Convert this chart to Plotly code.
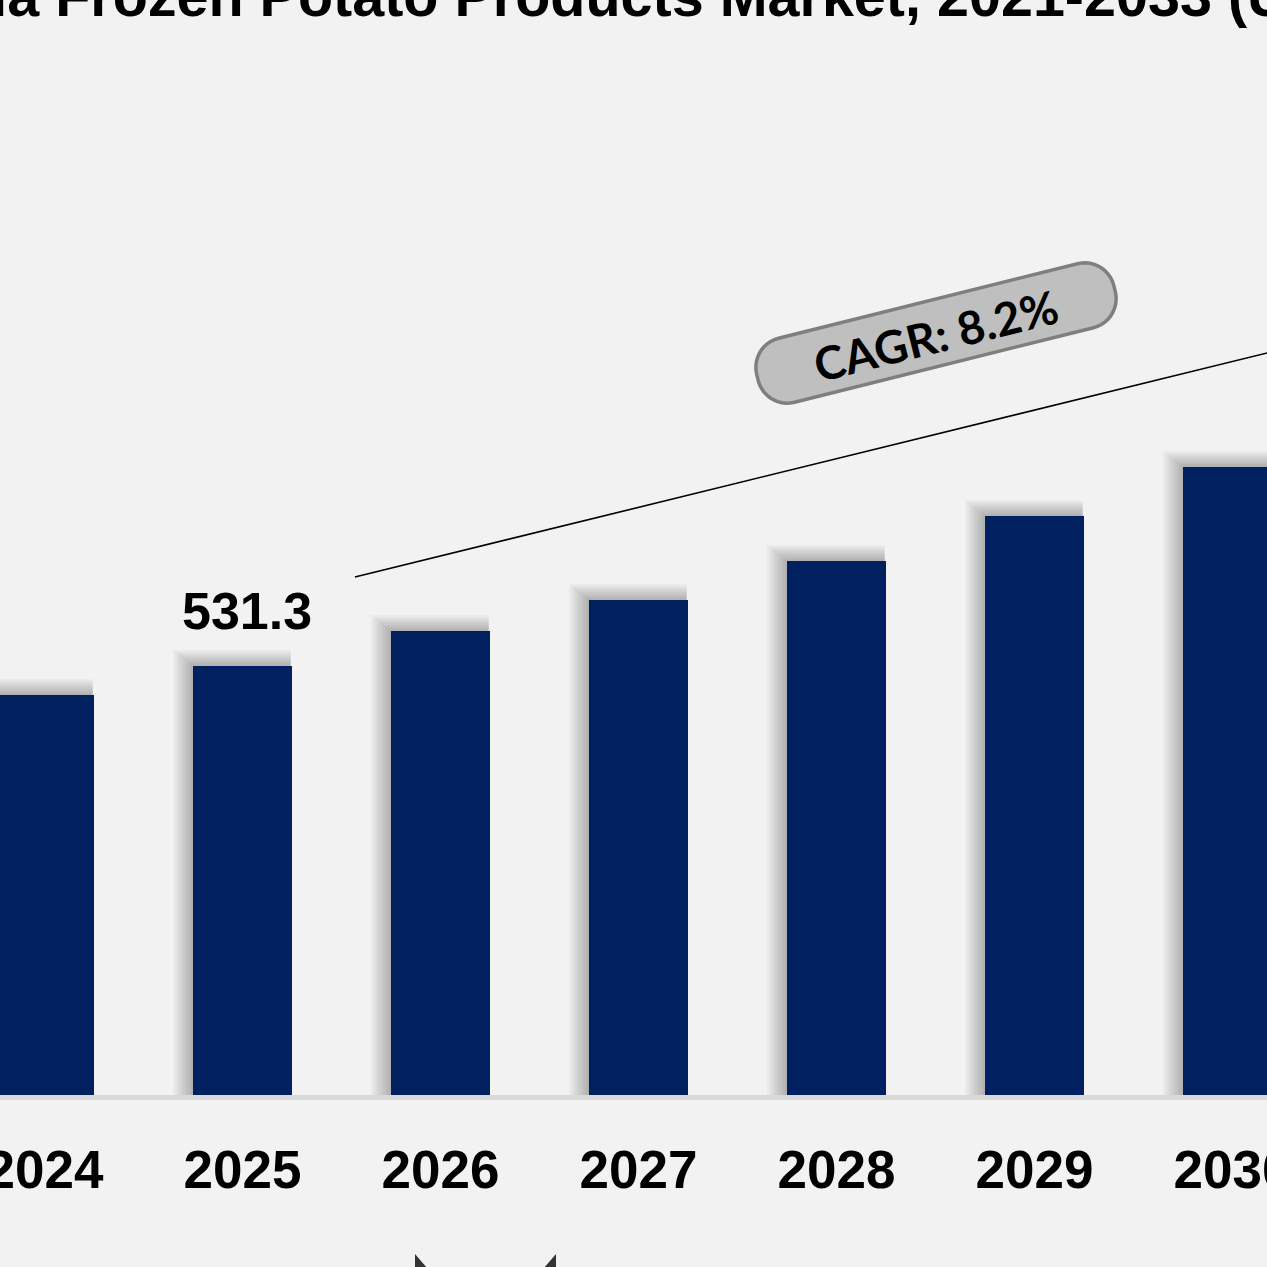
import numpy as np
import plotly.graph_objects as go

# ---------------- data ----------------
years = ["2024", "2025", "2026", "2027", "2028", "2029", "2030"]
values = [495.4, 531.3, 574.6, 613.0, 661.3, 717.1, 777.7]
label_year = "2025"
label_text = "531.3"
title_text = "India Frozen Potato Products Market, 2021-2033 (USD Million)"
cagr_text = "CAGR: 8.2%"

# ---------------- geometry helpers ----------------
W, H = 1267, 1267
PLOT_H = 1095          # plot area height in px (bottom margin = H - PLOT_H)
BOTTOM = H - PLOT_H
Y_MAX = 1356.1
X_RANGE = [-0.2247, 6.1742]
PX_PER_CAT = W / (X_RANGE[1] - X_RANGE[0])
UNITS_PER_PX = Y_MAX / PLOT_H


def to_paper(px, py):
    return px / W, (PLOT_H - py) / PLOT_H


BAR_COLOR = "#002060"
BG = "#f2f2f2"
xi = list(range(len(years)))

fig = go.Figure()

# soft shadow (up-left) behind the bars
n_layers = 10
for k in range(n_layers, 0, -1):
    dpx = 2.0 * k
    left_ext = dpx / PX_PER_CAT
    up_ext = 0.8 * dpx * UNITS_PER_PX
    fig.add_trace(go.Bar(
        x=xi, y=[v + up_ext for v in values],
        width=0.5 + left_ext - 0.006, offset=-0.25 - left_ext,
        marker=dict(color="rgba(0,0,0,0.026)", line=dict(width=0)),
        hoverinfo="skip", showlegend=False,
    ))

fig.add_trace(go.Bar(
    x=xi, y=values, width=0.5, offset=-0.25,
    marker=dict(color=BAR_COLOR, line=dict(width=0)),
    showlegend=False,
))

# value label
li = years.index(label_year)
fig.add_annotation(
    x=li, y=values[li], xref="x", yref="y",
    text=label_text, showarrow=False, xanchor="center", yanchor="bottom",
    xshift=5, yshift=24,
    font=dict(family="Liberation Sans, Arial", size=52, color="black", weight="bold"),
)

# trend line
slope_units_per_cat = (224 / 912) * PX_PER_CAT * UNITS_PER_PX
x0_line = 1.568
y0_line = 641.5
x1_line = 7.0
fig.add_shape(type="line", xref="x", yref="y",
              x0=x0_line, y0=y0_line, x1=x1_line,
              y1=y0_line + slope_units_per_cat * (x1_line - x0_line),
              line=dict(color="black", width=1.6))

# CAGR pill (rotated rounded rectangle)
cx, cy = 936, 333
L_p, T_p, r_p = 368, 66, 30
ang = np.deg2rad(14)
pts = []
hx, hy = L_p / 2 - r_p, T_p / 2 - r_p
for (ccx, ccy, a0) in [(hx, -hy, -90), (hx, hy, 0), (-hx, hy, 90), (-hx, -hy, 180)]:
    for a in np.linspace(a0, a0 + 90, 12):
        t = np.deg2rad(a)
        pts.append((ccx + r_p * np.cos(t), ccy + r_p * np.sin(t)))
path = ""
for i, (lx, ly) in enumerate(pts):
    sx = cx + lx * np.cos(ang) + ly * np.sin(ang)
    sy = cy - lx * np.sin(ang) + ly * np.cos(ang)
    px_, py_ = to_paper(sx, sy)
    path += ("M" if i == 0 else "L") + f"{px_:.5f},{py_:.5f} "
path += "Z"
fig.add_shape(type="path", xref="paper", yref="paper", path=path,
              fillcolor="#bfbfbf", line=dict(color="#7f7f7f", width=3.5))
tx, ty = to_paper(935, 335)
fig.add_annotation(x=tx, y=ty, xref="paper", yref="paper", text=cagr_text,
                   showarrow=False, textangle=-14, xanchor="center", yanchor="middle",
                   font=dict(family="Lato", size=46, color="black", weight="bold"))

# title (cropped at the top / sides)
ttx, tty = to_paper(-97, -4)
fig.add_annotation(x=ttx, y=tty, xref="paper", yref="paper", text=title_text,
                   showarrow=False, xanchor="left", yanchor="middle",
                   font=dict(family="Liberation Sans, Arial", size=57.5, color="black", weight="bold"))

# logo fragments at the bottom
for tri in [[(415, 1254), (415, 1290), (446, 1290)], [(556, 1254), (556, 1290), (525, 1290)]]:
    p = ""
    for i, (a, b) in enumerate(tri):
        qx, qy = to_paper(a, b)
        p += ("M" if i == 0 else "L") + f"{qx:.5f},{qy:.5f} "
    fig.add_shape(type="path", xref="paper", yref="paper", path=p + "Z",
                  fillcolor="#333333", line=dict(width=0))

fig.update_layout(
    width=W, height=H, margin=dict(l=0, r=0, t=0, b=BOTTOM, pad=0, autoexpand=False),
    paper_bgcolor=BG, plot_bgcolor=BG, barmode="overlay", showlegend=False,
    xaxis=dict(range=X_RANGE, showgrid=False, zeroline=False, automargin=False,
               tickmode="array", tickvals=xi, ticktext=years,
               ticklabeloverflow="allow",
               showline=True, linecolor="#d9d9d9", linewidth=5, ticks="",
               ticklabelstandoff=24,
               tickfont=dict(family="Liberation Sans, Arial", size=53, color="black", weight="bold")),
    yaxis=dict(range=[0, Y_MAX], visible=False, showgrid=False, zeroline=False, automargin=False),
)

fig.write_html("out.html")
